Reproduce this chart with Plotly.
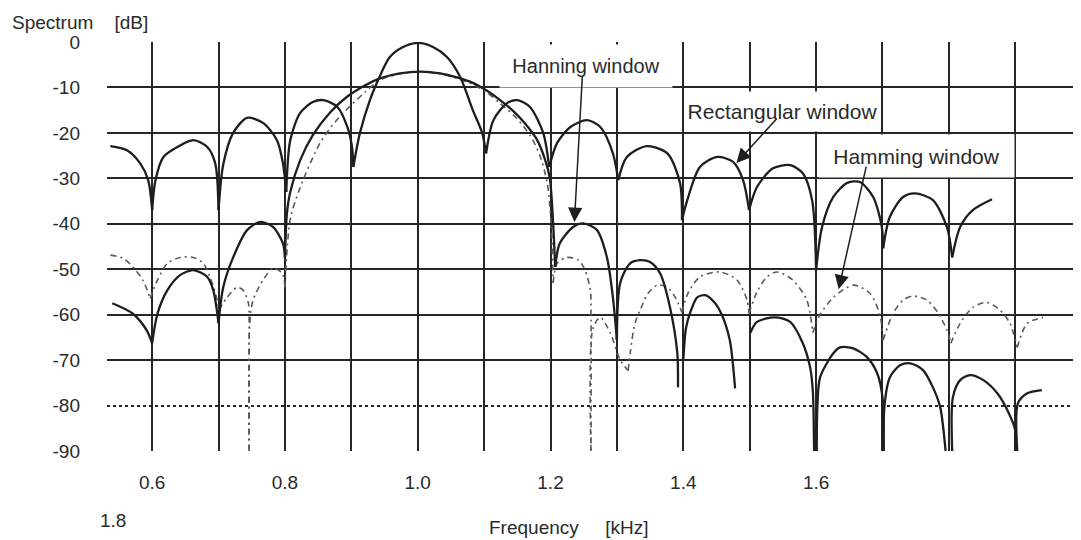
import plotly.graph_objects as go

# ---------------- data (frequency in kHz, spectrum in dB) ----------------
# None separates lobes so that each null keeps its sharp cusp
rect_f = [0.537, 0.562, 0.582, 0.594, 0.600, None,
          0.600, 0.605, 0.617, 0.638, 0.662, 0.683, 0.695, 0.700, None,
          0.700, 0.707, 0.722, 0.743, 0.767, 0.788, 0.797, 0.802, None,
          0.802, 0.808, 0.823, 0.842, 0.858, 0.879, 0.894, 0.901, 0.903, None,
          0.903, 0.913, 0.928, 0.939, 0.958, 0.978, 1.001, 1.023, 1.044, 1.064, 1.083, 1.097, 1.103, None,
          1.103, 1.114, 1.135, 1.150, 1.169, 1.189, 1.198, None,
          1.198, 1.210, 1.230, 1.255, 1.275, 1.294, 1.302, None,
          1.302, 1.315, 1.345, 1.376, 1.395, 1.398, None,
          1.398, 1.406, 1.425, 1.451, 1.475, 1.490, 1.499, None,
          1.499, 1.511, 1.535, 1.561, 1.580, 1.594, 1.600, None,
          1.600, 1.609, 1.626, 1.647, 1.666, 1.686, 1.699, 1.701, None,
          1.701, 1.711, 1.731, 1.749, 1.776, 1.797, 1.805, None,
          1.805, 1.817, 1.836, 1.865]
rect_db = [-22.9, -23.8, -26.7, -30.4, -37.0, None,
           -37.0, -30.4, -25.3, -23.1, -21.6, -23.1, -26.7, -37.0, None,
           -37.0, -27.0, -20.0, -16.7, -17.8, -21.6, -26.7, -33.0, None,
           -33.0, -21.6, -15.6, -13.2, -12.8, -14.3, -18.7, -23.1, -27.5, None,
           -27.5, -20.0, -12.8, -8.8, -3.3, -1.1, -0.2, -1.1, -3.3, -7.7, -15.0, -20.0, -24.5, None,
           -24.5, -17.2, -13.4, -12.8, -14.3, -20.0, -27.5, None,
           -27.5, -22.2, -18.7, -17.2, -18.7, -24.5, -30.4, None,
           -30.4, -25.3, -22.9, -24.5, -31.0, -39.2, None,
           -39.2, -34.8, -27.5, -25.3, -26.4, -30.4, -37.0, None,
           -37.0, -31.9, -27.8, -27.1, -28.9, -34.8, -50.2, None,
           -50.2, -40.7, -34.1, -31.0, -30.8, -34.1, -40.7, -45.4, None,
           -45.4, -38.5, -34.1, -33.3, -34.8, -40.7, -47.4, None,
           -47.4, -40.7, -37.0, -34.6]

hann_f = [0.540, 0.571, 0.592, 0.600, None,
          0.600, 0.608, 0.623, 0.642, 0.662, 0.683, 0.692, 0.700, None,
          0.700, 0.707, 0.722, 0.743, 0.763, 0.782, 0.797, 0.800, None,
          0.800, 0.803, 0.808, 0.823, 0.842, 0.868, 0.894, 0.921, 0.943, 0.973, 1.004,
          1.034, 1.059, 1.083, 1.105, 1.124, 1.144, 1.162, 1.180, 1.192, 1.199, 1.204, 1.207, None,
          1.207, 1.214, 1.234, 1.249, 1.270, 1.285, 1.294, 1.300, None,
          1.300, 1.305, 1.320, 1.335, 1.350, 1.365, 1.380, 1.391, 1.392, None,
          1.400, 1.404, 1.410, 1.421, 1.433, 1.448, 1.458, 1.470, 1.478, None,
          1.501, 1.511, 1.538, 1.561, 1.580, 1.591, 1.595, 1.597, None,
          1.601, 1.602, 1.606, 1.626, 1.636, 1.656, 1.677, 1.692, 1.700, 1.701, None,
          1.702, 1.703, 1.711, 1.727, 1.742, 1.761, 1.776, 1.787, 1.794, 1.795, None,
          1.805, 1.806, 1.817, 1.832, 1.852, 1.873, 1.888, 1.900, 1.901, None,
          1.903, 1.904, 1.918, 1.940]
hann_db = [-57.5, -59.8, -63.5, -66.3, None,
           -66.3, -59.8, -54.6, -51.3, -50.2, -51.7, -54.6, -61.9, None,
           -61.9, -54.0, -47.4, -41.4, -39.6, -40.7, -44.3, -47.4, None,
           -47.4, -37.7, -33.0, -26.0, -20.5, -15.5, -12.0, -9.5, -8.0, -6.9, -6.5,
           -6.9, -7.8, -9.0, -10.8, -12.8, -15.2, -18.0, -21.6, -26.0, -30.0, -40.0, -49.5, None,
           -49.5, -44.3, -40.7, -39.9, -41.4, -47.4, -56.2, -65.6, None,
           -65.6, -53.0, -48.7, -48.0, -48.4, -50.9, -58.4, -68.5, -76.0, None,
           -70.0, -63.0, -59.7, -56.2, -55.7, -57.5, -60.0, -65.6, -76.2, None,
           -64.0, -61.6, -60.6, -61.6, -66.3, -71.6, -76.6, -90.0, None,
           -90.0, -80.0, -73.8, -68.5, -67.2, -67.4, -69.4, -72.9, -78.2, -90.0, None,
           -90.0, -80.0, -73.8, -71.1, -70.7, -72.2, -76.0, -80.4, -88.3, -90.0, None,
           -90.0, -78.2, -74.4, -73.3, -74.4, -77.3, -81.0, -85.5, -90.0, None,
           -90.0, -79.5, -77.3, -76.6]

hamm_f = [0.537, 0.556, 0.571, 0.586, 0.597, None,
          0.597, 0.608, 0.623, 0.642, 0.662, 0.677, 0.687, 0.698, 0.700, None,
          0.700, 0.713, 0.728, 0.737, 0.745, 0.746, 0.746, None,
          0.746, 0.747, 0.752, 0.767, 0.782, 0.796, 0.800, None,
          0.800, 0.808, 0.823, 0.853, 0.879, 0.921, 0.943, 0.973, 1.004, 1.034, 1.059,
          1.083, 1.105, 1.124, 1.147, 1.169, 1.184, 1.195, 1.201, 1.204, None,
          1.204, 1.210, 1.225, 1.242, 1.252, 1.260, 1.261, 1.261, None,
          1.261, 1.264, 1.275, 1.290, 1.305, 1.317, None,
          1.317, 1.320, 1.327, 1.335, 1.347, 1.361, 1.376, 1.388, 1.398, None,
          1.398, 1.407, 1.425, 1.455, 1.481, 1.496, 1.499, None,
          1.499, 1.511, 1.526, 1.541, 1.565, 1.586, 1.595, None,
          1.595, 1.606, 1.626, 1.656, 1.681, 1.696, 1.701, None,
          1.701, 1.716, 1.731, 1.746, 1.767, 1.784, 1.797, 1.803, None,
          1.803, 1.817, 1.836, 1.857, 1.877, 1.892, 1.903, None,
          1.903, 1.918, 1.942]
hamm_db = [-46.9, -47.6, -49.5, -52.4, -56.4, None,
           -56.4, -52.4, -48.7, -47.4, -47.4, -48.7, -51.7, -56.8, -59.0, None,
           -59.0, -56.2, -54.0, -54.6, -57.5, -61.0, -90.0, None,
           -90.0, -62.0, -56.8, -52.4, -49.8, -50.9, -54.0, None,
           -54.0, -39.0, -32.0, -22.2, -17.0, -11.0, -8.4, -7.0, -6.6, -7.0, -8.0,
           -9.3, -11.2, -13.5, -16.5, -20.5, -25.0, -31.0, -40.0, -53.0, None,
           -53.0, -48.7, -47.4, -48.0, -50.2, -54.6, -59.7, -90.0, None,
           -90.0, -63.0, -60.6, -64.0, -70.0, -72.3, None,
           -72.3, -68.5, -62.0, -59.0, -55.3, -53.5, -54.0, -56.2, -59.5, None,
           -59.5, -55.3, -51.7, -50.6, -52.4, -56.8, -59.7, None,
           -59.7, -55.0, -51.7, -50.6, -52.4, -56.8, -64.0, None,
           -64.0, -60.0, -56.2, -53.5, -55.3, -60.0, -65.6, None,
           -65.6, -59.7, -56.8, -55.9, -56.8, -59.7, -63.4, -66.3, None,
           -66.3, -61.9, -58.4, -57.3, -59.0, -61.9, -67.2, None,
           -67.2, -61.9, -60.6]

x_grid = [0.6, 0.7, 0.8, 0.9, 1.0, 1.1, 1.2, 1.3, 1.4, 1.5, 1.6, 1.7, 1.8, 1.9]
x_labels = ["0.6", "", "0.8", "", "1.0", "", "1.2", "", "1.4", "", "1.6", "", "", ""]
y_ticks = [0, -10, -20, -30, -40, -50, -60, -70, -80, -90]
y_labels = ["0", "-10", "-20", "-30", "-40", "-50", "-60", "-70", "-80", "-90"]
y_solid_grid = [0, -10, -20, -30, -40, -50, -60, -70, -90]
y_dotted_grid = [-80]

INK = "#1e1e1e"
GRID = "#262626"
TXT = "#2a2a2a"
FONT = "Liberation Sans, Arial, sans-serif"

fig = go.Figure()
fig.add_trace(go.Scatter(x=hamm_f, y=hamm_db, mode="lines", yaxis="y2",
                         line=dict(color="#5a5a5a", width=1.6, dash="6px,4px,2px,4px",
                                   shape="spline", smoothing=0.8),
                         name="Hamming window", showlegend=False))
fig.add_trace(go.Scatter(x=hann_f, y=hann_db, mode="lines", yaxis="y2",
                         line=dict(color=INK, width=2.3, shape="spline", smoothing=0.8),
                         name="Hanning window", showlegend=False))
fig.add_trace(go.Scatter(x=rect_f, y=rect_db, mode="lines", yaxis="y2",
                         line=dict(color=INK, width=2.3, shape="spline", smoothing=0.8),
                         name="Rectangular window", showlegend=False))
fig.add_trace(go.Scatter(x=[None], y=[None], yaxis="y3", showlegend=False, hoverinfo="skip"))

yr = [-90, 0]
# the page body adds an 8 px offset, so the figure is 8 px smaller and margins shifted
fig.update_layout(
    width=1073, height=532, autosize=False,
    margin=dict(l=99, r=0, t=34, b=89),
    paper_bgcolor="white", plot_bgcolor="white",
    font=dict(family=FONT, size=19, color=TXT),
    showlegend=False,
    xaxis=dict(range=[0.532, 1.999], tickvals=x_grid, ticktext=x_labels,
               showgrid=True, gridcolor=GRID, gridwidth=2, zeroline=False,
               showline=False, ticks="", ticklabelstandoff=18,
               tickfont=dict(size=19, color=TXT)),
    yaxis=dict(range=yr, tickvals=y_ticks, ticktext=y_labels, showgrid=False,
               zeroline=False, showline=False, ticks="", ticklabelstandoff=26,
               tickfont=dict(size=19, color=TXT)),
    yaxis2=dict(range=yr, overlaying="y", tickvals=y_solid_grid, showgrid=True,
                gridcolor=GRID, gridwidth=2, showticklabels=False, zeroline=False,
                showline=False, ticks=""),
    yaxis3=dict(range=yr, overlaying="y", tickvals=y_dotted_grid, showgrid=True,
                gridcolor=GRID, gridwidth=1.6, griddash="dot", showticklabels=False,
                zeroline=False, showline=False, ticks=""),
)

ann_font = dict(family=FONT, color=TXT)
arrow = dict(text="", xref="x", yref="y", axref="x", ayref="y", showarrow=True,
             arrowhead=2, arrowsize=1.9, arrowwidth=1.5, arrowcolor=INK)
annotations = [
    dict(text="Spectrum\u00a0\u00a0\u00a0\u00a0[dB]", xref="paper", yref="paper",
         x=-0.0996, y=1.0465, xanchor="left", yanchor="middle", showarrow=False,
         font=dict(size=19, **ann_font)),
    dict(text="Frequency\u00a0\u00a0\u00a0\u00a0\u00a0[kHz]", xref="paper", yref="paper",
         x=0.390, y=-0.186, xanchor="left", yanchor="middle", showarrow=False,
         font=dict(size=19, **ann_font)),
    dict(text="1.8", xref="paper", yref="paper", x=0.0062, y=-0.171,
         xanchor="center", yanchor="middle", showarrow=False, font=dict(size=19, **ann_font)),
    dict(text="Hanning window", xref="x", yref="y", x=1.254, y=-5.2,
         xanchor="center", yanchor="middle", showarrow=False, bgcolor="white",
         width=170, height=40, font=dict(size=20, **ann_font)),
    dict(text="Rectangular window", xref="x", yref="y", x=1.550, y=-15.4,
         xanchor="center", yanchor="middle", showarrow=False, bgcolor="white",
         width=193, height=37, font=dict(size=21, **ann_font)),
    dict(text="Hamming window", xref="x", yref="y", x=1.7505, y=-25.0,
         xanchor="center", yanchor="middle", showarrow=False, bgcolor="white",
         width=193, height=40, font=dict(size=21, **ann_font)),
    dict(x=1.236, y=-39.6, ax=1.248, ay=-7.3, **arrow),
    dict(x=1.480, y=-26.6, ax=1.543, ay=-16.5, **arrow),
    dict(x=1.634, y=-54.4, ax=1.676, ay=-27.1, **arrow),
]
fig.update_layout(annotations=annotations)

fig.write_html("out.html")
